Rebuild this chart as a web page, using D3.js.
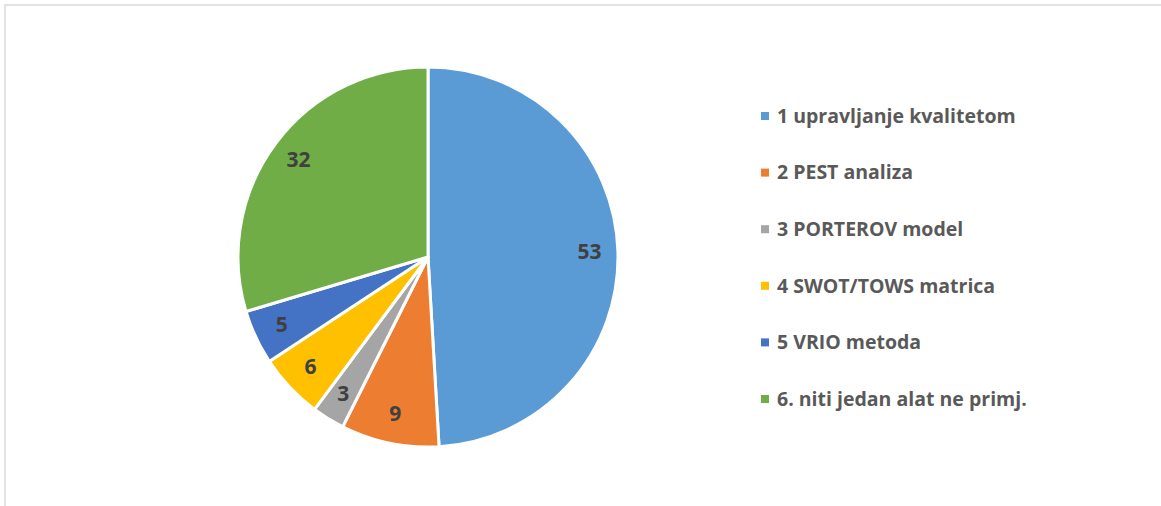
<!DOCTYPE html>
<html>
<head>
<meta charset="utf-8">
<script src="https://cdn.jsdelivr.net/npm/d3@7"></script>
<style>
  body { margin: 0; background: #fff; }
  svg text { font-family: "Open Sans", Lato, sans-serif; font-weight: bold; }
</style>
</head>
<body>
<div id="vis"></div>
<script>
const categories = [
    '1 upravljanje kvalitetom',
    '2 PEST analiza',
    '3 PORTEROV model',
    '4 SWOT/TOWS matrica',
    '5 VRIO metoda',
    '6. niti jedan alat ne primj.'
];
const values = [53, 9, 3, 6, 5, 32];
const colors = ['#5B9BD5', '#ED7D31', '#A5A5A5', '#FFC000', '#4472C4', '#70AD47'];

const width = 1161, height = 506;
const cx = 428, cy = 257, radius = 190;

const svg = d3.select('#vis')
    .append('svg')
    .attr('width', width)
    .attr('height', height);

// chart frame
svg.append('rect')
    .attr('x', 5)
    .attr('y', 5)
    .attr('width', width + 10)
    .attr('height', height + 10)
    .attr('fill', 'none')
    .attr('stroke', '#d9d9d9')
    .attr('stroke-width', 1.5);

const data = categories.map((c, i) => ({ name: c, value: values[i], color: colors[i] }));

const pie = d3.pie().value(d => d.value).sort(null);
const arc = d3.arc().innerRadius(0).outerRadius(radius);
const labelArc = d3.arc().innerRadius(radius * 0.85).outerRadius(radius * 0.85);

const g = svg.append('g').attr('transform', `translate(${cx},${cy})`);

g.selectAll('path')
    .data(pie(data))
    .join('path')
    .attr('d', arc)
    .attr('fill', d => d.data.color)
    .attr('stroke', '#fff')
    .attr('stroke-width', 3)
    .attr('stroke-linejoin', 'round');

g.selectAll('.label')
    .data(pie(data))
    .join('text')
    .attr('class', 'label')
    .attr('transform', d => `translate(${labelArc.centroid(d)})`)
    .attr('text-anchor', 'middle')
    .attr('dy', '0.3em')
    .style('font-size', '21px')
    .style('fill', '#404040')
    .text(d => d.data.value);

// legend
const legendY = d3.scalePoint()
    .domain(categories)
    .range([116, 399]);

const legend = svg.append('g');

legend.selectAll('rect')
    .data(data)
    .join('rect')
    .attr('x', 761)
    .attr('y', d => legendY(d.name) - 4)
    .attr('width', 8)
    .attr('height', 8)
    .attr('fill', d => d.color);

legend.selectAll('text')
    .data(data)
    .join('text')
    .attr('x', 777)
    .attr('y', d => legendY(d.name))
    .attr('dy', '0.35em')
    .style('font-size', '19.5px')
    .style('fill', '#595959')
    .text(d => d.name);
</script>
</body>
</html>
